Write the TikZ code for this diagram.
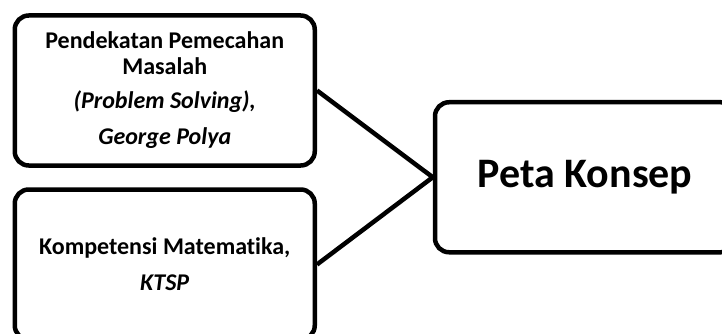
\documentclass[tikz,border=0pt]{standalone}
\usepackage{fontspec}
\setmainfont[Ligatures=NoCommon]{Carlito}
\usepackage{tikz}

\begin{document}
\begin{tikzpicture}[x=1pt,y=-1pt,
	box/.style={draw,line width=4.5pt,rounded corners=14pt,minimum width=300pt,minimum height=150pt,align=center,inner sep=0pt,font=\bfseries},
	link/.style={line width=4.5pt}]
	\useasboundingbox (0,0) rectangle (722,334);	%size of the picture
	\node[box,font=\bfseries\fontsize{24}{26}\selectfont] (pendekatan) at (164.75,90.5) {Pendekatan Pemecahan\\Masalah\\[8pt]\textit{(Problem Solving),}\\[10pt]\textit{George Polya}};
	\node[box,font=\bfseries\fontsize{24}{26}\selectfont] (kompetensi) at (164.75,264.5) {Kompetensi Matematika,\\[10pt]\textit{KTSP}};
	\node[box,font=\bfseries\fontsize{42}{46}\selectfont] (peta) at (585,177.25) {Peta Konsep};	%right box, cut at the edge
	
	\draw[link] (pendekatan.east) -- (peta.west) -- (kompetensi.east);	%lines into the concept map
\end{tikzpicture}
\end{document}
